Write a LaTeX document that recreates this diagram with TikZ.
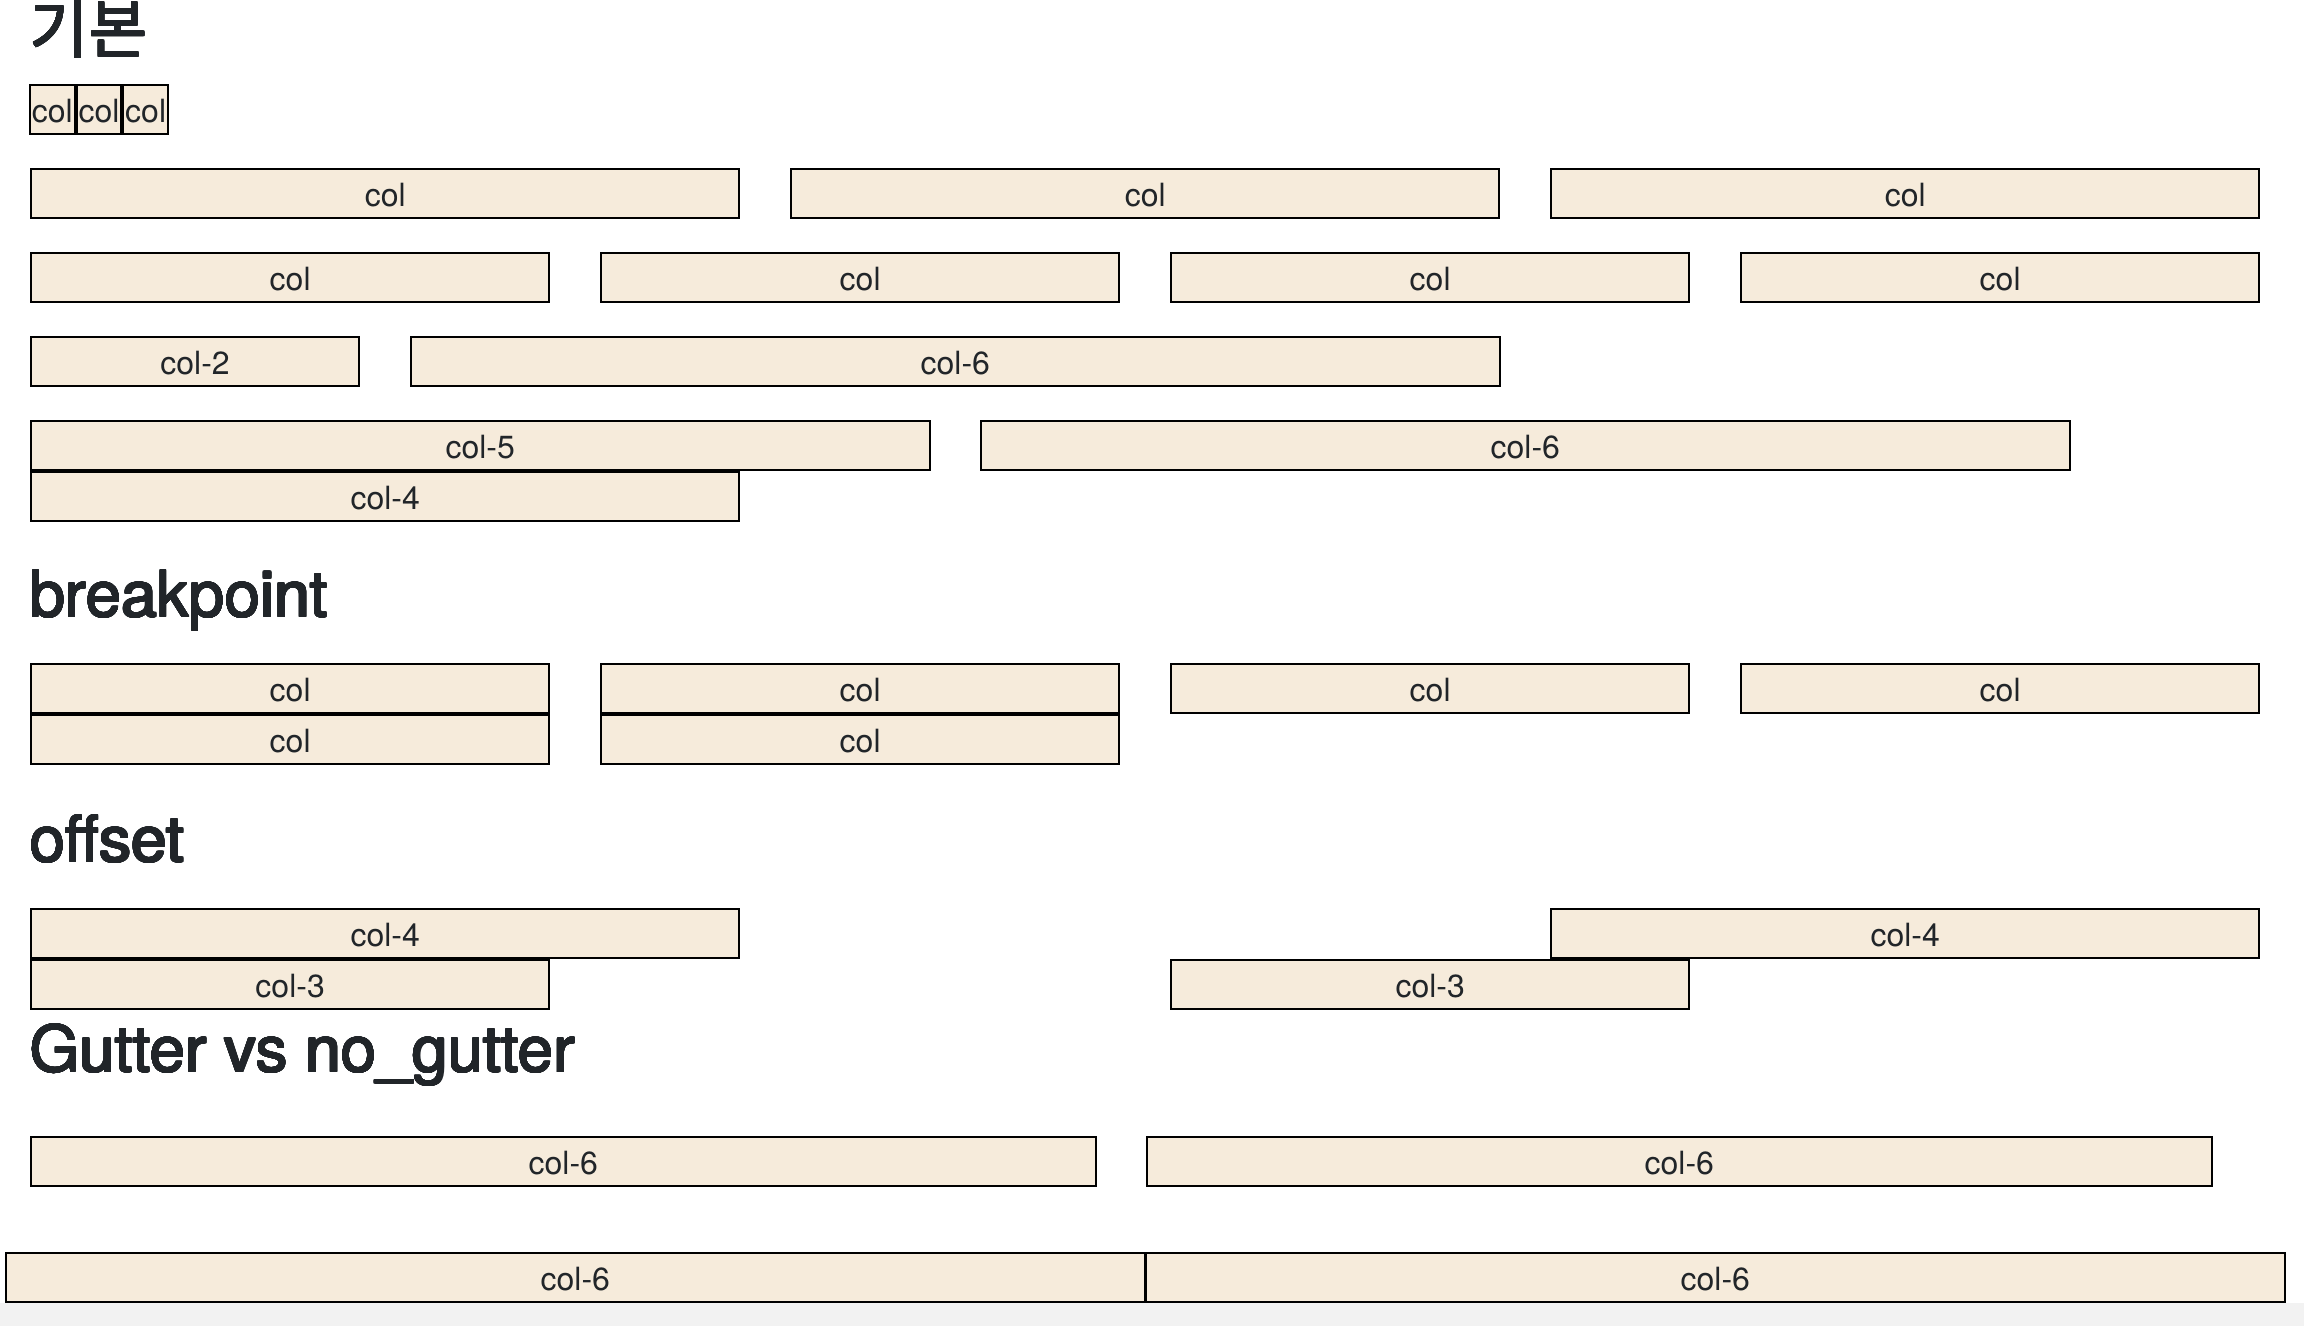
\documentclass[tikz,border=0pt]{standalone}
\usepackage{fontspec}
\setmainfont{TeX Gyre Heros}
\newfontfamily\krfont{Noto Sans CJK KR}
\usepackage[copies]{contour}
\contournumber{24}
\usepackage{tikz}
\usetikzlibrary{positioning}

\definecolor{textdark}{RGB}{33,37,41}
\definecolor{colfill}{RGB}{246,235,219}
\definecolor{bandgray}{RGB}{242,242,242}

% heavier heading text
\newcommand{\headtext}[2][0.2pt]{\contourlength{#1}\contour{textdark}{#2}}

\begin{document}
\begin{tikzpicture}[
    x=0.01cm, y=-0.01cm,
    colbox/.style={rectangle, draw=black, fill=colfill, line width=0.02cm,
        inner sep=0pt, minimum height=0.49cm, anchor=north west,
        text=textdark, text height=0.254cm, text depth=0pt,
        font=\fontsize{9.1pt}{11pt}\selectfont},
    autobox/.style={colbox, minimum width=0.4467cm},
    span2/.style={colbox, minimum width=3.28cm},
    span3/.style={colbox, minimum width=5.18cm},
    span4/.style={colbox, minimum width=7.08cm},
    span5/.style={colbox, minimum width=8.98cm},
    span6/.style={colbox, minimum width=10.88cm},
    half/.style={colbox, minimum width=10.64cm},
    nogut/.style={colbox, minimum width=11.38cm},
    title/.style={anchor=base west, inner sep=0pt, text=textdark,
        font=\fontsize{18.2pt}{22pt}\selectfont}
]
    % page
    \fill[white] (0,0) rectangle (2304,1326);

    % === 기본 ===
    \node[title, font=\krfont\fontsize{18.2pt}{22pt}\selectfont] (title-basic) at (29,53) {\headtext[0.15pt]{기본}};

    % auto width
    \node[autobox] (auto-1) at (29,84) {col};
    \node[autobox] (auto-2) at (75.67,84) {col};
    \node[autobox] (auto-3) at (122.33,84) {col};

    % three equal
    \node[span4] (third-1) at (30,168) {col};
    \node[span4] (third-2) at (790,168) {col};
    \node[span4] (third-3) at (1550,168) {col};

    % four equal
    \node[span3] (quarter-1) at (30,252) {col};
    \node[span3] (quarter-2) at (600,252) {col};
    \node[span3] (quarter-3) at (1170,252) {col};
    \node[span3] (quarter-4) at (1740,252) {col};

    % col-2 + col-6
    \node[span2] (mix-1) at (30,336) {col-2};
    \node[span6] (mix-2) at (410,336) {col-6};

    % wrap
    \node[span5] (wrap-1) at (30,420) {col-5};
    \node[span6] (wrap-2) at (980,420) {col-6};
    \node[span4] (wrap-3) at (30,471) {col-4};

    % === breakpoint ===
    \node[title] (title-bp) at (29,617) {\headtext{breakpoint}};

    \node[span3] (bp-1) at (30,663) {col};
    \node[span3] (bp-2) at (600,663) {col};
    \node[span3] (bp-3) at (1170,663) {col};
    \node[span3] (bp-4) at (1740,663) {col};
    \node[span3] (bp-5) at (30,714) {col};
    \node[span3] (bp-6) at (600,714) {col};

    % === offset ===
    \node[title] (title-offset) at (29,862) {\headtext{offset}};

    \node[span4] (off-1) at (30,908) {col-4};
    \node[span4] (off-2) at (1550,908) {col-4};
    \node[span3] (off-3) at (30,959) {col-3};
    \node[span3] (off-4) at (1170,959) {col-3};

    % === Gutter vs no_gutter ===
    \node[title] (title-gutter) at (29,1072) {\headtext{Gutter vs no\_gutter}};

    % with gutter
    \node[half] (gut-1) at (30,1136) {col-6};
    \node[half] (gut-2) at (1146,1136) {col-6};

    % no gutter
    \node[nogut] (nogut-1) at (5,1252) {col-6};
    \node[nogut] (nogut-2) at (1145,1252) {col-6};

    % bottom band
    \fill[bandgray] (0,1303) rectangle (2304,1326);

    \pgfresetboundingbox
    \useasboundingbox (0,0) rectangle (2304,1326);
\end{tikzpicture}
\end{document}
